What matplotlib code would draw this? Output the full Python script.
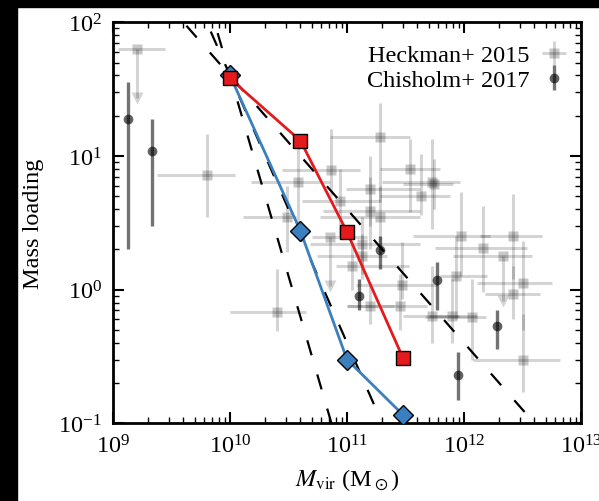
import numpy as np
import matplotlib
matplotlib.use("Agg")
import matplotlib.pyplot as plt
from matplotlib.patches import Rectangle

plt.rcParams['font.family'] = 'serif'
plt.rcParams['font.serif'] = ['Liberation Serif', 'DejaVu Serif']
plt.rcParams['mathtext.fontset'] = 'stix'
plt.rcParams['font.size'] = 17.5

# model runs: halo mass vs mass loading
mvir_model = [1e10, 4e10, 1e11, 3e11]
eta_red = [38, 13, 2.7, 0.31]
eta_blue = [40, 2.75, 0.30, 0.116]

# reference power laws eta = norm * (M / 1e10)^slope
guide_slopes = [-1, -2, -3]
guide_norm = 40.0
guide_mrange = [1e9, 1e13]

# Heckman+ 2015 (upper limits have eta_lo = end of arrow)
heck_m = [1.6e9, 6.3e9, 2.5e10, 1.9e11, 7.3e10, 3.85e10, 3.45e11, 1.57e11,
          8.7e10, 1.57e11, 1.9e11, 7.2e10, 1.34e11, 1.34e11, 4.3e11, 5.3e11,
          5.5e11, 9.5e11, 1.45e12, 2.14e12, 2.63e12, 3.2e12, 2.93e11, 8.5e11,
          2.84e11, 1.57e11, 7.85e11, 5.3e11, 1.16e12, 3.2e12, 1.1e11, 3.1e10,
          2.63e12]
heck_eta = [63, 7.2, 0.68, 13.8, 7.8, 6.4, 8.0, 5.7,
            4.6, 3.9, 3.5, 2.47, 2.2, 1.8, 5.0, 6.4,
            6.2, 2.54, 2.04, 1.8, 2.5, 1.12, 1.08, 1.27,
            0.76, 0.76, 0.64, 0.64, 0.62, 0.30, 1.51, 3.5,
            0.93]
heck_m_lo = [1.1e9, 2.4e9, 1.0e10, 7.2e10, 2.8e10, 1.5e10, 1.9e11, 9.9e10,
             4.1e10, 6.2e10, 5.9e10, 5.0e10, 4.8e10, 5.5e10, 1.9e11, 2.0e11,
             3.0e11, 3.7e11, 5.65e11, 8.0e11, 1.37e12, 1.29e12, 1.2e11, 6.2e11,
             1.0e11, 1.0e11, 5.0e11, 3.0e11, 4.6e11, 1.19e12, 8.0e10, 1.3e10,
             1.5e12]
heck_m_hi = [2.8e9, 1.1e10, 4.5e10, 3.45e11, 1.3e11, 7.2e10, 6.2e11, 4.2e11,
             1.9e11, 4.2e11, 4.2e11, 1.47e11, 4.2e11, 2.2e11, 7.6e11, 9.2e11,
             8.0e11, 1.67e12, 3.45e12, 3.8e12, 4.65e12, 5.65e12, 6.0e11, 1.56e12,
             4.8e11, 2.5e11, 1.3e12, 9.0e11, 1.53e12, 6.6e12, 3.4e11, 3.7e10,
             4.5e12]
heck_eta_lo = [27, 3.5, 0.49, 4.5, 5.0, 3.1, 3.8, 3.0,
               2.5, 2.0, 2.0, 1.07, 1.3, 1.2, 3.6, 2.85,
               4.0, 1.27, 0.96, 0.82, 1.2, 0.5, 0.85, 0.6,
               0.5, 0.55, 0.4, 0.4, 0.3, 0.17, 1.0, 1.9,
               0.6]
heck_eta_hi = [63, 14.6, 1.43, 25, 16, 13.4, 13.4, 10,
               8.0, 7.0, 6.0, 2.47, 3.5, 2.6, 10.4, 13.4,
               9.5, 5.4, 4.25, 1.8, 5.2, 2.33, 2.27, 2.54,
               1.3, 1.1, 1.2, 1.5, 1.2, 0.66, 2.2, 6.0,
               1.5]
heck_uplim = [True, False, False, False, False, False, False, False,
              False, False, False, True, False, False, False, False,
              False, False, False, True, False, False, False, False,
              False, False, False, False, False, False, False, False,
              False]

# Chisholm+ 2017
chis_m = [1.35e9, 2.14e9, 1.91e11, 1.27e11, 5.9e11, 1.93e12, 8.8e11]
chis_eta = [18.9, 10.8, 1.98, 0.90, 1.19, 0.53, 0.23]
chis_eta_lo = [2.0, 3.0, 1.43, 0.70, 0.70, 0.36, 0.15]
chis_eta_hi = [35.6, 18.9, 2.5, 1.2, 1.6, 0.70, 0.34]

fig = plt.figure(figsize=(5.99, 5.02), dpi=100)
ax = fig.add_axes([0.1886, 0.1548, 0.7814, 0.7988])

# black frame strips along the left and top edges
fig.patches.append(Rectangle((0, 0), 16.5 / 599, 1, transform=fig.transFigure,
                             color='black', zorder=10))
fig.patches.append(Rectangle((0, 1 - 8.3 / 502), 1, 8.3 / 502,
                             transform=fig.transFigure, color='black', zorder=10))

hm = np.array(heck_m)
he = np.array(heck_eta)
xerr = [hm - np.array(heck_m_lo), np.array(heck_m_hi) - hm]
yerr = [he - np.array(heck_eta_lo), np.array(heck_eta_hi) - he]
ax.errorbar(hm, he, xerr=xerr, yerr=yerr, fmt='s', ms=6.5,
            mfc=(0, 0, 0, 0.22), mec='none', ecolor=(0, 0, 0, 0.17),
            elinewidth=2.2, capsize=0, zorder=1, label='Heckman+ 2015')
ul = np.array(heck_uplim)
ax.plot(hm[ul], np.array(heck_eta_lo)[ul], 'v', ms=8,
        color=(0, 0, 0, 0.17), mec='none', zorder=1)

cm = np.array(chis_m)
ce = np.array(chis_eta)
cerr = [ce - np.array(chis_eta_lo), np.array(chis_eta_hi) - ce]
ax.errorbar(cm, ce, yerr=cerr, fmt='o', ms=7,
            mfc=(0, 0, 0, 0.62), mec='none', ecolor=(0, 0, 0, 0.55),
            elinewidth=2.4, capsize=0, zorder=2, label='Chisholm+ 2017')

for s in guide_slopes:
    gm = np.array(guide_mrange)
    ax.plot(gm, guide_norm * (gm / 1e10) ** s, color='k', lw=1.6,
            linestyle=(0, (7, 9)), zorder=3)

ax.plot(mvir_model, eta_blue, '-D', color='#3a7fbf', lw=2, ms=10,
        mec='k', mew=1, zorder=4)
ax.plot(mvir_model, eta_red, '-s', color='#e41a1c', lw=2, ms=10.5,
        mec='k', mew=1, zorder=5)

ax.set_xscale('log')
ax.set_yscale('log')
ax.set_xlim(1e9, 1e13)
ax.set_ylim(0.1, 100)
ax.set_xlabel(r'$M_{\rm vir}$ (M$_\odot$)', labelpad=6)
ax.set_ylabel('Mass loading', labelpad=10)

for sp in ax.spines.values():
    sp.set_linewidth(2)
ax.tick_params(which='both', direction='in', top=True, right=True, pad=8)
ax.tick_params(which='major', length=8, width=1.5)
ax.tick_params(which='minor', length=4, width=1)

ax.legend(loc='upper right', bbox_to_anchor=(1.015, 1.0), frameon=False,
          markerfirst=False, handlelength=1.0, handletextpad=0.5,
          borderaxespad=0.4, borderpad=0.5, labelspacing=0.12, fontsize=17.5)

fig.savefig('out.png', dpi=100)
